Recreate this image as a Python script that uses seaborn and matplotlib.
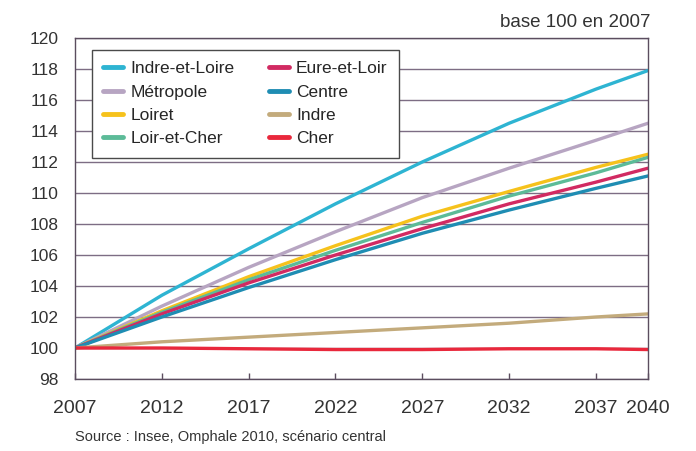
import matplotlib
matplotlib.use("Agg")
import matplotlib.pyplot as plt
import seaborn as sns
import pandas as pd

years = [2007, 2012, 2017, 2022, 2027, 2032, 2037, 2040]

indre_et_loire = [100, 103.4, 106.4, 109.3, 112.0, 114.5, 116.7, 117.9]
metropole      = [100, 102.7, 105.2, 107.5, 109.7, 111.6, 113.4, 114.5]
loiret         = [100, 102.4, 104.6, 106.6, 108.5, 110.1, 111.65, 112.5]
loir_et_cher   = [100, 102.3, 104.4, 106.3, 108.1, 109.8, 111.3, 112.3]
eure_et_loir   = [100, 102.2, 104.2, 106.0, 107.7, 109.3, 110.7, 111.6]
centre         = [100, 102.0, 103.9, 105.7, 107.4, 108.9, 110.3, 111.1]
indre          = [100, 100.4, 100.7, 101.0, 101.3, 101.6, 102.0, 102.2]
cher           = [100, 100.0, 99.95, 99.9, 99.9, 99.95, 99.95, 99.9]

series_names = ["Indre-et-Loire", "Métropole", "Loiret", "Loir-et-Cher",
                "Eure-et-Loir", "Centre", "Indre", "Cher"]
series_values = [indre_et_loire, metropole, loiret, loir_et_cher,
                 eure_et_loir, centre, indre, cher]
colors = ["#2eb4d2", "#b7a5c2", "#f6c21c", "#5cbb98",
          "#d12a62", "#1f8db3", "#c3ab7c", "#e9283c"]

x_ticks = [2007, 2012, 2017, 2022, 2027, 2032, 2037, 2040]
y_ticks = list(range(98, 121, 2))

rows = []
for name, vals in zip(series_names, series_values):
    for y, v in zip(years, vals):
        rows.append({"année": y, "indice": v, "zone": name})
df = pd.DataFrame(rows)

sns.set_theme(style="white")
plt.rcParams["font.family"] = ["Liberation Sans", "DejaVu Sans"]

fig = plt.figure(figsize=(6.96, 4.51), dpi=100)
ax = fig.add_axes([75 / 696, 72 / 451, 573 / 696, 341 / 451])

sns.lineplot(data=df, x="année", y="indice", hue="zone",
             hue_order=series_names, palette=colors, linewidth=2.4,
             ax=ax, legend=False)

ax.set_xlim(2007, 2040)
ax.set_ylim(98, 120)
ax.set_xticks(x_ticks)
ax.set_xticklabels([str(t) for t in x_ticks], fontsize=14, color="#333333")
ax.set_yticks(y_ticks)
ax.set_yticklabels([str(t) for t in y_ticks], fontsize=12.5, color="#333333")
ax.set_xlabel("")
ax.set_ylabel("")

ax.grid(axis="y", color="#7d6d84", linewidth=1.0, zorder=0)
ax.grid(axis="x", visible=False)
ax.set_axisbelow(True)
for s in ax.spines.values():
    s.set_color("#5b4d5f")
    s.set_linewidth(1.0)
ax.tick_params(axis="x", bottom=True, top=False, direction="in", length=4,
               width=1, color="#5b4d5f", pad=15)
ax.tick_params(axis="y", left=False, right=False, length=0, pad=12)

handles = [plt.Line2D([], [], color=c, linewidth=3.5) for c in colors]
leg = ax.legend(handles, series_names, ncol=2, loc="upper left",
                bbox_to_anchor=(17 / 573, 1 - 12 / 341),
                fontsize=12.5, frameon=True, fancybox=False,
                handlelength=1.15, handletextpad=0.4, columnspacing=2.0,
                labelspacing=0.47, borderpad=0.65, borderaxespad=0)
leg.get_frame().set_edgecolor("#4a4a4a")
leg.get_frame().set_linewidth(1.0)
leg.get_frame().set_facecolor("white")
leg.get_frame().set_alpha(1)

fig.text(650 / 696, 1 - 27 / 451, "base 100 en 2007", ha="right",
         va="baseline", fontsize=13.5, color="#333333")
fig.text(75 / 696, 1 - 437 / 451, "Source : Insee, Omphale 2010, scénario central",
         ha="left", va="center", fontsize=10.5, color="#333333")

fig.savefig("out.png", dpi=100, facecolor="white")
